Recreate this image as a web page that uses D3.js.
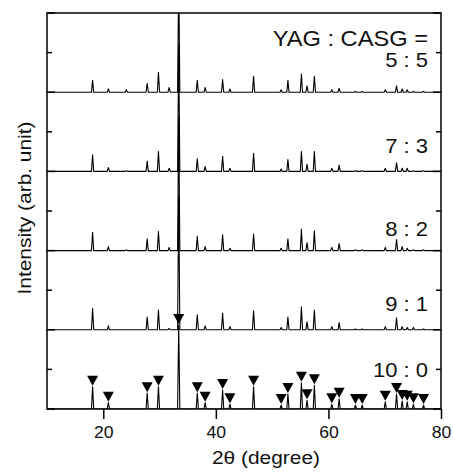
<!DOCTYPE html>
<meta charset="utf-8">
<script src="https://d3js.org/d3.v7.min.js"></script>
<style>
    body {margin: 0; background: #fff; font-family: 'Liberation Sans', Arial, sans-serif;}
</style>
<body>
<svg width="453" height="473"></svg>
<script>
    // YAG reflections (2theta, deg) - also the marker positions
    var peakPos = [18.1, 20.9, 27.8, 29.8, 33.4, 36.7, 38.1, 41.2, 42.5, 46.7, 51.6, 52.8, 55.2,
        56.2, 57.5, 60.6, 61.9, 64.8, 66.0, 70.1, 72.1, 73.1, 74.0, 75.1, 76.9];
    // small CASG reflections
    var casgPos = [24.1, 31.7];

    var samples = ["10 : 0", "9 : 1", "8 : 2", "7 : 3", "5 : 5"];
    // relative intensity, one panel = 100
    var int100 = [28, 8, 20, 28, 106, 20, 8, 24, 6, 28, 5, 19, 33, 11, 30, 6, 13, 5, 5, 9, 19, 10, 9, 6, 5];
    var int91 = [27, 5, 16, 25, 170, 19, 5, 21, 4, 24, 3, 16, 29, 10, 25, 4, 9, 1, 1, 4, 15, 4, 3, 3, 1];
    var int82 = [23, 5, 15, 24, 170, 18, 5, 20, 3, 21, 3, 15, 27, 10, 25, 4, 9, 1, 1, 4, 14, 5, 3, 1, 1];
    var int73 = [21, 5, 13, 25, 160, 16, 6, 19, 4, 23, 3, 15, 25, 9, 25, 4, 8, 1, 1, 4, 11, 4, 4, 1, 1];
    var int55 = [15, 4, 11, 25, 150, 15, 6, 16, 4, 20, 3, 15, 23, 8, 20, 3, 5, 1, 1, 3, 8, 4, 3, 1, 1];
    var casgInt = [[0, 0], [0, 2], [1, 4], [1, 4], [3, 6]];
    var allInt = [int100, int91, int82, int73, int55];

    var xTicks = [20, 40, 60, 80];
    var labelLift = [40, 24, 19, 23, 32];

    var svg = d3.select("svg"),
        pL = 47, pR = 441, pT = 13, pB = 409,
        stretch = 1.1;

    var x = d3.scaleLinear().domain([10, 80]).range([pL, pR]);
    var y = d3.scaleLinear().domain([0, 500]).range([pB, pT]);

    svg.append("defs").append("clipPath").attr("id", "plotclip")
        .append("rect")
        .attr("x", pL).attr("y", pT)
        .attr("width", pR - pL).attr("height", pB - pT);

    var line = d3.line()
        .x(function(d){return x(d[0]);})
        .y(function(d){return y(d[1]);});

    // spectra drawn as narrow spikes on each panel's baseline
    var hw = 0.2;
    var plot = svg.append("g").attr("clip-path", "url(#plotclip)");
    samples.forEach(function(s, i){
        var base = i * 100;
        var pk = peakPos.map(function(p, j){return [p, allInt[i][j]];})
            .concat(casgPos.map(function(p, j){return [p, casgInt[i][j]];}))
            .filter(function(d){return d[1] > 0;})
            .sort(function(a, b){return a[0] - b[0];});
        var pts = [[10, base]];
        pk.forEach(function(d){
            pts.push([d[0] - hw, base], [d[0], base + d[1]], [d[0] + hw, base]);
        });
        pts.push([80, base]);
        plot.append("path")
            .datum(pts)
            .attr("d", line)
            .attr("fill", "none")
            .attr("stroke", "#000")
            .attr("stroke-width", 1.1)
            .attr("stroke-linejoin", "round");
    });

    // YAG markers on the 10:0 pattern
    svg.append("g").selectAll("path")
        .data(peakPos)
        .enter().append("path")
        .attr("transform", function(d, j){return "translate(" + x(d) + "," + (y(int100[j]) - 1) + ")";})
        .attr("d", "M-5.5,-10 L5.5,-10 L0,0 Z")
        .attr("fill", "#000");

    // frame
    svg.append("rect")
        .attr("x", pL).attr("y", pT)
        .attr("width", pR - pL).attr("height", pB - pT)
        .attr("fill", "none")
        .attr("stroke", "#000")
        .attr("stroke-width", 1.5);

    // y ticks, inside, both sides
    var yMajor = d3.range(0, 501, 100), yMinor = d3.range(50, 500, 100);
    [[pL, 1], [pR, -1]].forEach(function(side){
        var g = svg.append("g").attr("stroke", "#000").attr("stroke-width", 1.5);
        g.selectAll(".maj").data(yMajor).enter().append("line")
            .attr("x1", side[0]).attr("x2", side[0] + side[1] * 8)
            .attr("y1", function(d){return y(d);}).attr("y2", function(d){return y(d);});
        g.selectAll(".min").data(yMinor).enter().append("line")
            .attr("x1", side[0]).attr("x2", side[0] + side[1] * 5)
            .attr("y1", function(d){return y(d);}).attr("y2", function(d){return y(d);});
    });

    // x axis
    var xAxis = svg.append("g")
        .attr("transform", "translate(0," + pB + ")")
        .call(d3.axisBottom(x).tickValues(xTicks).tickSizeInner(10).tickSizeOuter(0).tickPadding(8));
    xAxis.select(".domain").remove();
    xAxis.selectAll("line").attr("stroke-width", 1.5);
    xAxis.selectAll("text")
        .attr("font-size", 16)
        .attr("font-family", "'Liberation Sans', Arial, sans-serif")
        .attr("fill", "#111")
        .attr("transform", "scale(" + stretch + ",1)");

    function label(tx, ty, str, size, anchor, rot){
        svg.append("g")
            .attr("transform", "translate(" + tx + "," + ty + ")" + (rot ? " rotate(" + rot + ")" : ""))
            .append("text")
            .attr("transform", "scale(" + stretch + ",1)")
            .attr("text-anchor", anchor)
            .attr("font-size", size)
            .attr("fill", "#111")
            .text(str);
    }

    samples.forEach(function(s, i){
        label(pR - 13, y(i * 100 + labelLift[i]), s, 20, "end");
    });
    label(pR - 13, y(458), "YAG : CASG =", 21.5, "end");

    label(266, 464, "2\u03b8 (degree)", 19, "middle");
    label(31, 208, "Intensity (arb. unit)", 19, "middle", -90);
</script>
</body>
